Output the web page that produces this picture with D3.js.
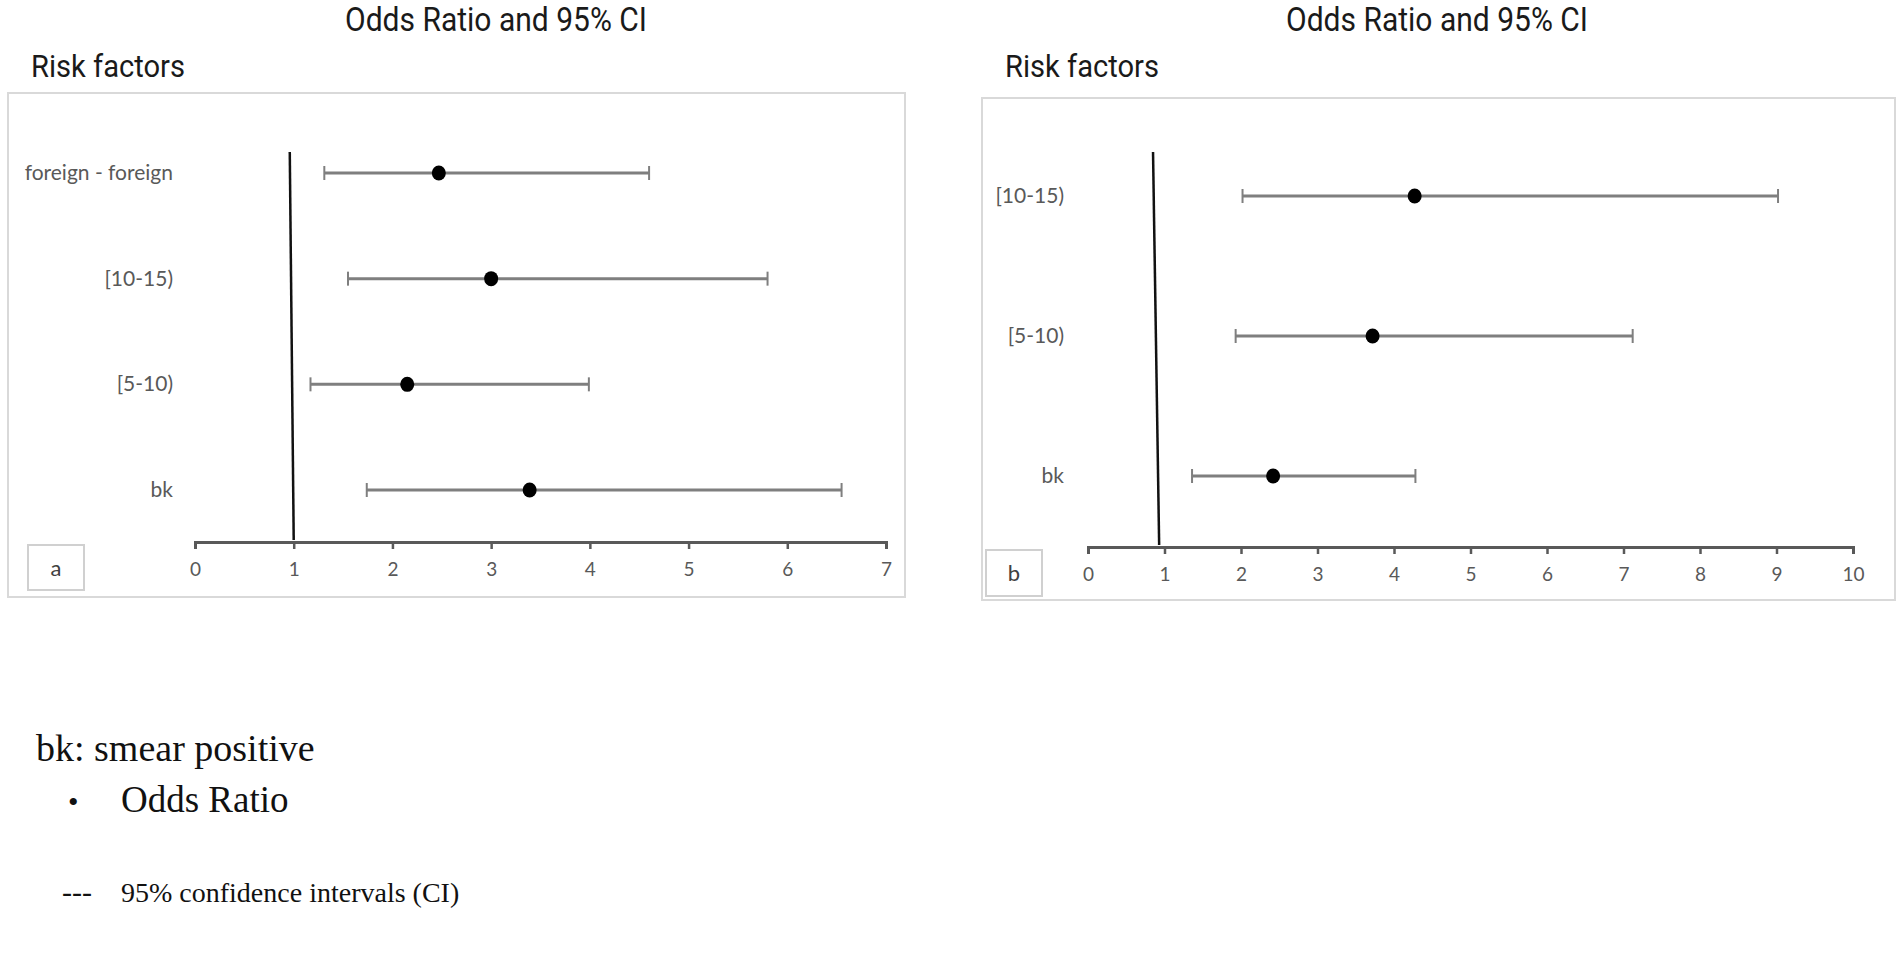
<!DOCTYPE html>
<html>
<head>
<meta charset="UTF-8">
<script src="https://d3js.org/d3.v7.min.js"></script>
<style>
  body { margin: 0; background: #fff; }
  .title { font-family: 'Liberation Sans Narrow', 'Roboto', sans-serif; fill: #1a1a1a; }
  .lab { font-family: 'Lato', 'Open Sans', sans-serif; fill: #595959; }
  .note { font-family: 'Liberation Serif', 'DejaVu Serif', serif; fill: #111; }
</style>
</head>
<body>
<svg id="chart"></svg>
<script>
  // panel a
  const factorsA = ["foreign - foreign", "[10-15)", "[5-10)", "bk"];
  const orA   = [2.47, 3.00, 2.15, 3.39];
  const lowA  = [1.31, 1.55, 1.17, 1.74];
  const highA = [4.60, 5.80, 3.99, 6.55];
  const ticksA = [0, 1, 2, 3, 4, 5, 6, 7];

  // panel b
  const factorsB = ["[10-15)", "[5-10)", "bk"];
  const orB   = [4.27, 3.72, 2.42];
  const lowB  = [2.02, 1.93, 1.36];
  const highB = [9.02, 7.12, 4.28];
  const ticksB = [0, 1, 2, 3, 4, 5, 6, 7, 8, 9, 10];

  const notes = ["bk: smear positive", "Odds Ratio", "95% confidence intervals (CI)"];

  const W = 1902, H = 954;
  const svg = d3.select('#chart').attr('width', W).attr('height', H);

  function drawPanel(cfg) {
    const g = svg.append('g');

    // frame
    g.append('rect')
      .attr('x', cfg.box[0]).attr('y', cfg.box[1])
      .attr('width', cfg.box[2] - cfg.box[0]).attr('height', cfg.box[3] - cfg.box[1])
      .attr('fill', 'none').attr('stroke', '#d9d9d9').attr('stroke-width', 2);

    g.append('text').attr('class', 'title')
      .attr('x', cfg.titleX).attr('y', 31)
      .attr('text-anchor', 'middle')
      .attr('font-size', 33)
      .attr('textLength', 302).attr('lengthAdjust', 'spacingAndGlyphs')
      .text('Odds Ratio and 95% CI');

    g.append('text').attr('class', 'title')
      .attr('x', cfg.box[0] + 23).attr('y', 77)
      .attr('font-size', 32)
      .attr('textLength', 154).attr('lengthAdjust', 'spacingAndGlyphs')
      .text('Risk factors');

    const x = d3.scaleLinear().domain(d3.extent(cfg.ticks)).range(cfg.xRange);
    const y = d3.scalePoint().domain(cfg.factors).range(cfg.yRange);

    // axis
    const axis = d3.axisBottom(x).tickValues(cfg.ticks).tickFormat(d3.format('d'))
      .tickSize(7).tickSizeOuter(7).tickPadding(14);
    const ax = g.append('g').attr('transform', `translate(0,${cfg.axisY})`).call(axis);
    ax.select('.domain').attr('stroke', '#595959').attr('stroke-width', 3);
    ax.selectAll('.tick line').attr('stroke', '#595959').attr('stroke-width', 2.5);
    ax.selectAll('.tick text').attr('class', 'lab').attr('font-size', 19);

    // reference line at OR = 1
    g.append('line')
      .attr('x1', x(cfg.refTop)).attr('y1', 152)
      .attr('x2', x(cfg.refBottom)).attr('y2', cfg.axisY - 2)
      .attr('stroke', '#111').attr('stroke-width', 2.5);

    // labels
    g.selectAll('.rowlab').data(cfg.factors).join('text')
      .attr('class', 'lab')
      .attr('x', cfg.labelX).attr('y', d => y(d) + 7)
      .attr('text-anchor', 'end')
      .attr('font-size', 21)
      .text(d => d);

    const rows = cfg.factors.map((f, i) => ({ f, or: cfg.or[i], lo: cfg.low[i], hi: cfg.high[i] }));

    // CI lines + caps
    g.selectAll('.ci').data(rows).join('line')
      .attr('x1', d => x(d.lo)).attr('x2', d => x(d.hi))
      .attr('y1', d => y(d.f)).attr('y2', d => y(d.f))
      .attr('stroke', '#7f7f7f').attr('stroke-width', 3);
    ['lo', 'hi'].forEach(k => {
      g.selectAll('.cap-' + k).data(rows).join('line')
        .attr('x1', d => x(d[k])).attr('x2', d => x(d[k]))
        .attr('y1', d => y(d.f) - 7).attr('y2', d => y(d.f) + 7)
        .attr('stroke', '#7f7f7f').attr('stroke-width', 2);
    });

    g.selectAll('.pt').data(rows).join('ellipse')
      .attr('cx', d => x(d.or)).attr('cy', d => y(d.f))
      .attr('rx', 7).attr('ry', 7.5)
      .attr('fill', '#000');

    // panel letter
    g.append('rect')
      .attr('x', cfg.letterBox[0]).attr('y', cfg.letterBox[1])
      .attr('width', cfg.letterBox[2]).attr('height', cfg.letterBox[3])
      .attr('fill', '#fff').attr('stroke', '#d0d0d0').attr('stroke-width', 2);
    g.append('text').attr('class', 'lab')
      .attr('x', cfg.letterBox[0] + cfg.letterBox[2] / 2)
      .attr('y', cfg.letterBox[1] + cfg.letterBox[3] / 2 + 8)
      .attr('text-anchor', 'middle').attr('font-size', 22).style('fill', '#404040')
      .text(cfg.letter);
  }

  drawPanel({
    factors: factorsA, or: orA, low: lowA, high: highA, ticks: ticksA,
    box: [8, 93, 905, 597], titleX: 496,
    xRange: [195, 886], yRange: [173, 490], axisY: 542,
    refTop: 0.96, refBottom: 1.0, labelX: 173,
    letterBox: [28, 545, 56, 45], letter: 'a'
  });

  drawPanel({
    factors: factorsB, or: orB, low: lowB, high: highB, ticks: ticksB,
    box: [982, 98, 1895, 600], titleX: 1437,
    xRange: [1088, 1853], yRange: [196, 476], axisY: 547,
    refTop: 0.85, refBottom: 0.93, labelX: 1064,
    letterBox: [986, 550, 56, 46], letter: 'b'
  });

  // footnotes
  const foot = svg.append('g').attr('class', 'note');
  foot.append('text').attr('x', 36).attr('y', 761).attr('font-size', 38).text(notes[0]);
  foot.append('text').attr('x', 68).attr('y', 812).attr('font-size', 30).text('\u2022');
  foot.append('text').attr('x', 121).attr('y', 812).attr('font-size', 37).text(notes[1]);
  foot.append('text').attr('x', 62).attr('y', 902).attr('font-size', 30).text('---');
  foot.append('text').attr('x', 121).attr('y', 902).attr('font-size', 28).text(notes[2]);
</script>
</body>
</html>
